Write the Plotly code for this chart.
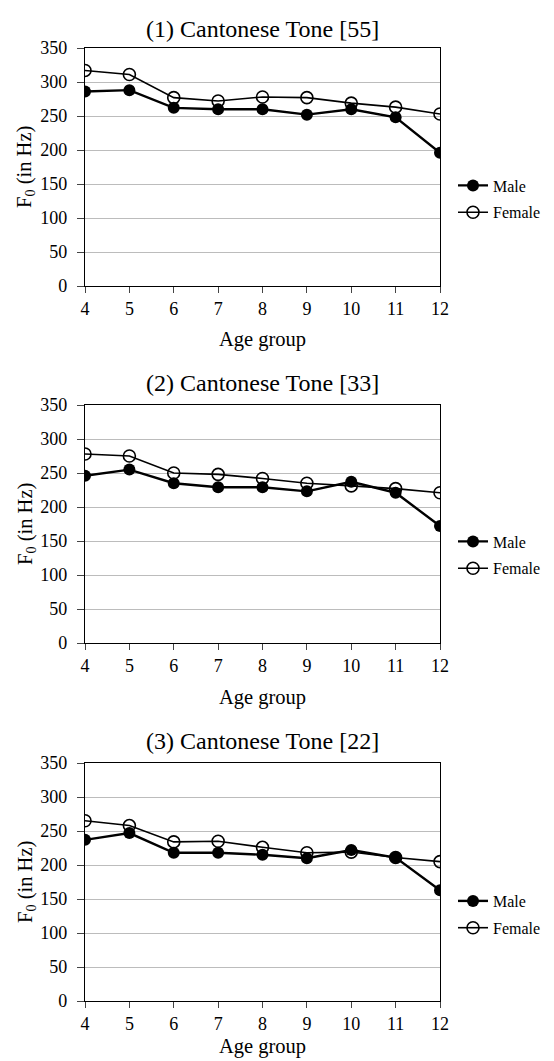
import plotly.graph_objects as go

ages = [4, 5, 6, 7, 8, 9, 10, 11, 12]
titles = ["(1) Cantonese Tone [55]", "(2) Cantonese Tone [33]", "(3) Cantonese Tone [22]"]
x_title = "Age group"
y_title = "F<sub>0</sub> (in Hz)"

male_55 = [286, 288, 262, 260, 260, 252, 260, 248, 196]
female_55 = [317, 311, 277, 272, 278, 277, 269, 263, 253]
male_33 = [246, 255, 235, 229, 229, 223, 237, 221, 172]
female_33 = [278, 275, 250, 248, 242, 235, 231, 227, 221]
male_22 = [237, 247, 218, 218, 215, 210, 222, 211, 163]
female_22 = [265, 258, 234, 235, 226, 218, 219, 211, 205]

males = [male_55, male_33, male_22]
females = [female_55, female_33, female_22]

W, H = 554, 1061
FONT = "Liberation Serif"
# pixel geometry of each panel
tops = [48, 405, 763]
bottoms = [286, 643, 1001]
title_y = [29, 383, 740.5]
xtitle_y = [340, 697, 1046]
legend_y = [199, 555, 914.5]
x0, x1 = 85, 440

fig = go.Figure()
layout = dict(
    width=W, height=H, margin=dict(l=0, r=0, t=0, b=0),
    paper_bgcolor="white", plot_bgcolor="white",
    font=dict(family=FONT, color="black", size=18),
    showlegend=True,
)
annotations = []
for i in range(3):
    sfx = "" if i == 0 else str(i + 1)
    leg = "legend" + sfx
    xa = "x" + sfx
    ya = "y" + sfx
    fig.add_trace(go.Scatter(
        x=ages, y=males[i], name="Male", mode="lines+markers",
        xaxis=xa, yaxis=ya, legend=leg, legendgroup=f"m{i}",
        line=dict(color="black", width=2.4),
        marker=dict(symbol="circle", size=12, color="black"),
    ))
    fig.add_trace(go.Scatter(
        x=ages, y=females[i], name="Female", mode="lines+markers",
        xaxis=xa, yaxis=ya, legend=leg, legendgroup=f"f{i}",
        line=dict(color="black", width=1.6),
        marker=dict(symbol="circle-open", size=12, color="black", line=dict(width=1.6)),
    ))
    ydom = [1 - bottoms[i] / H, 1 - tops[i] / H]
    layout["xaxis" + sfx] = dict(
        domain=[x0 / W, x1 / W], range=[4, 12], anchor=ya, automargin=False,
        tickmode="array", tickvals=ages, ticks="outside", ticklen=6,
        tickfont=dict(size=18), showgrid=False, zeroline=False,
        showline=True, linecolor="black", linewidth=1.3, mirror=True,
    )
    layout["yaxis" + sfx] = dict(
        domain=ydom, range=[0, 350], anchor=xa, automargin=False,
        tickmode="array", tickvals=list(range(0, 351, 50)), ticks="outside", ticklen=7,
        ticklabelstandoff=6,
        tickfont=dict(size=18), showgrid=True, gridcolor="#bcbcbc", gridwidth=1,
        zeroline=False, showline=True, linecolor="black", linewidth=1.3, mirror=True,
    )
    layout[leg] = dict(
        x=453 / W, xanchor="left", y=1 - legend_y[i] / H, yanchor="middle",
        bgcolor="rgba(0,0,0,0)", font=dict(size=16, family=FONT),
        tracegroupgap=3, traceorder="grouped", itemwidth=30,
    )
    annotations.append(dict(
        text=titles[i], x=262 / W, y=1 - title_y[i] / H,
        xref="paper", yref="paper", showarrow=False,
        font=dict(size=24, family=FONT), xanchor="center", yanchor="middle",
    ))
    annotations.append(dict(
        text=x_title, x=262 / W, y=1 - xtitle_y[i] / H,
        xref="paper", yref="paper", showarrow=False,
        font=dict(size=20.5, family=FONT), xanchor="center", yanchor="middle",
    ))
    annotations.append(dict(
        text=y_title, x=26 / W, y=1 - (tops[i] + bottoms[i]) / 2 / H, textangle=-90,
        xref="paper", yref="paper", showarrow=False,
        font=dict(size=20.5, family=FONT), xanchor="center", yanchor="middle",
    ))
layout["annotations"] = annotations
fig.update_layout(**layout)
fig.write_html(
    "out.html",
    config={"displayModeBar": False},
    post_script="document.body.style.margin='0';document.body.style.overflow='hidden';",
)
